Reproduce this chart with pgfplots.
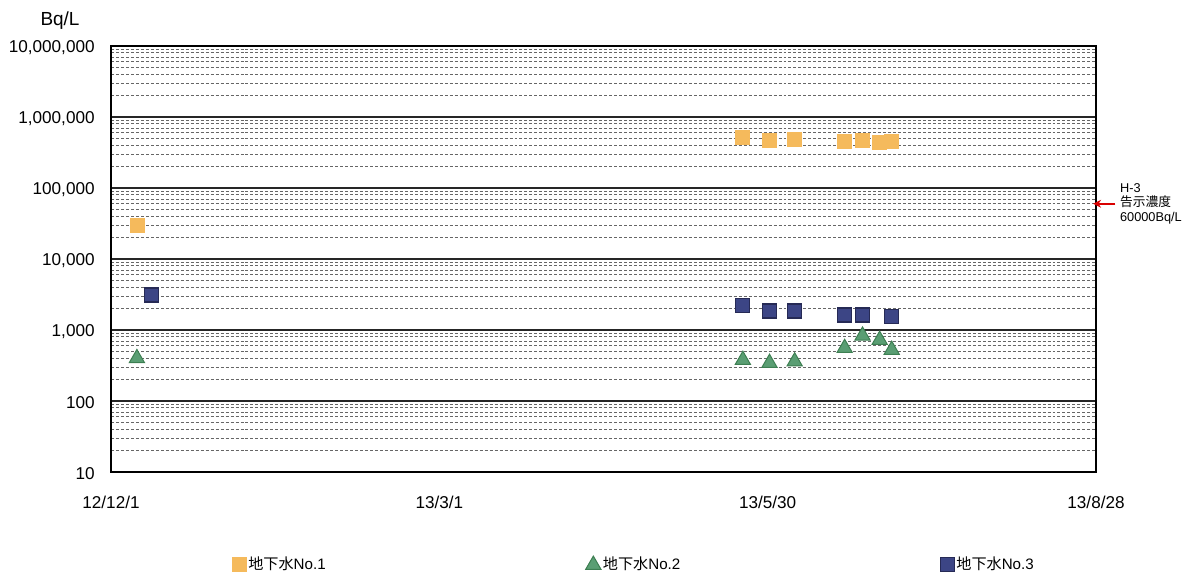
\documentclass[border=0pt]{standalone}
\usepackage{fontspec}
\setmainfont{Liberation Sans}
\newfontfamily\cjk{Noto Sans CJK JP}
\usepackage{pgfplots}
\pgfplotsset{compat=1.18}
\usetikzlibrary{arrows.meta}
\definecolor{c1}{HTML}{F5BA5C}
\definecolor{c2}{HTML}{5A9E73}
\definecolor{c2e}{HTML}{3D7F52}
\definecolor{c3}{HTML}{3C4585}
\definecolor{c3e}{HTML}{262A55}
\begin{document}
\begin{tikzpicture}[x=1bp,y=1bp]
\path[use as bounding box] (-55.5,-51.5) rectangle (538.5,236);
\begin{axis}[
  at={(0,0)}, anchor=south west,
  scale only axis, width=492.5bp, height=213bp,
  xmin=0, xmax=270, ymode=log, ymin=10, ymax=1e7,
  xtick={0,90,180,270}, xticklabels={12/12/1,13/3/1,13/5/30,13/8/28},
  ytick={10,100,1000,10000,100000,1000000,10000000},
  yticklabels={10,100,{1,000},{10,000},{100,000},{1,000,000},{10,000,000}},
  minor ytick={20,30,40,50,60,70,80,90,200,300,400,500,600,700,800,900,2000,3000,4000,5000,6000,7000,8000,9000,20000,30000,40000,50000,60000,70000,80000,90000,200000,300000,400000,500000,600000,700000,800000,900000,2000000,3000000,4000000,5000000,6000000,7000000,8000000,9000000},
  ymajorgrids, yminorgrids,
  major grid style={black!85, line width=0.9pt},
  minor grid style={black!60, dash pattern=on 1.5pt off 1pt, line width=0.4pt},
  axis line style={line width=1.2pt},
  major tick length=0pt, minor tick length=0pt,
  tick style={draw=none},
  clip=false,
  xticklabel style={font=\fontsize{8.6}{10}\selectfont, inner sep=0pt, anchor=north, yshift=-12bp},
  yticklabel style={font=\fontsize{8.6}{10}\selectfont, inner sep=0pt, anchor=east, xshift=-8bp, yshift=-1bp},
  legend columns=3,
  legend style={draw=none, fill=none, at={(0.531,-0.218)}, anchor=center,
    font=\fontsize{7.6}{9}\selectfont,
    /tikz/every even column/.append style={column sep=129bp},
    nodes={inner sep=1pt}},
  legend image code/.code={\draw[#1,mark repeat=2,mark phase=2] plot coordinates {(0bp,0bp) (3bp,0bp) (6bp,0bp)};},
]
\addplot[only marks, mark=square*, mark size=3.5bp, mark options={fill=c1, draw=c1}] coordinates {
(7.1,30000) (173.2,520000) (180.5,475000) (187.4,490000) (201.1,450000) (206.0,470000) (210.7,445000) (214.0,450000)};
\addlegendentry{{\cjk 地下水}No.1}
\addplot[only marks, mark=triangle*, mark size=4.4bp, mark options={fill=c2, draw=c2e, line width=0.5pt}] coordinates {
(7.1,400) (173.2,378) (180.5,343) (187.4,360) (201.1,557) (206.0,830) (210.7,724) (214.0,524)};
\addlegendentry{{\cjk 地下水}No.2}
\addplot[only marks, mark=square*, mark size=3.5bp, mark options={fill=c3, draw=c3e, line width=0.6pt}] coordinates {
(11.2,3110) (173.2,2200) (180.5,1850) (187.4,1850) (201.1,1630) (206.0,1630) (214.0,1540)};
\addlegendentry{{\cjk 地下水}No.3}
\draw[red!85!black, line width=0.9pt, -{Stealth[length=4bp,width=4bp]}] (axis cs:275.3,60000) -- (axis cs:269.2,60000);
\node[anchor=west, align=left, inner sep=0pt, font=\fontsize{6.4}{7.3}\selectfont] at (axis cs:276.5,60000) {H-3\\{\cjk 告示濃度}\\60000Bq/L};
\end{axis}
\node[font=\fontsize{9.5}{11}\selectfont] at (-25.5,225.5) {Bq/L};
\end{tikzpicture}
\end{document}
